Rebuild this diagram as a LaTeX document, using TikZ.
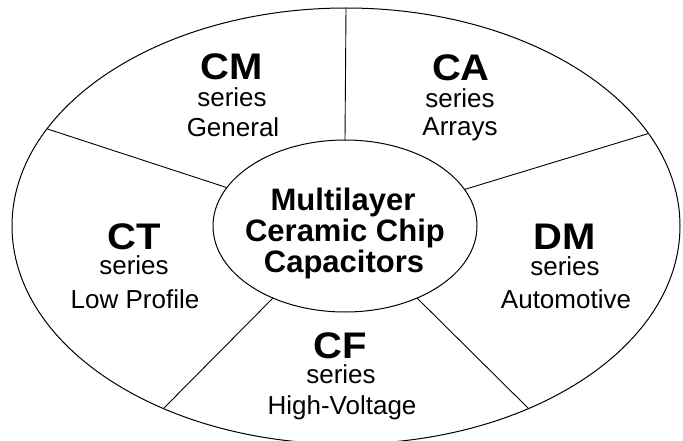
\documentclass[tikz,border=0pt]{standalone}
\usepackage{fontspec}
\setmainfont{Liberation Sans}
\newfontfamily\titlefont[FakeStretch=1.08]{Liberation Sans Bold}
\usetikzlibrary{shapes.geometric}
\tikzset{
  ring/.style={draw, ellipse, line width=1pt, inner sep=0pt, outer sep=0pt},
  spoke/.style={line width=0.9pt},
  title/.style={anchor=base, inner sep=0pt, font=\titlefont\fontsize{37}{37}\selectfont},
  sub/.style={anchor=base, inner sep=0pt, font=\fontsize{26}{26}\selectfont},
  hub/.style={anchor=base, inner sep=0pt, font=\bfseries\fontsize{31}{31}\selectfont}
}
\begin{document}
\begin{tikzpicture}[x=1pt,y=-1pt]
\useasboundingbox (0,0) rectangle (683,441);
\node[ring, minimum width=668pt, minimum height=436pt] (outer) at (346,226) {};
\node[ring, minimum width=264pt, minimum height=172pt] (inner) at (345,226) {};
\draw[spoke] (outer.90) -- (inner.90);
\draw[spoke] (outer.162.3) -- (inner.162.3);
\draw[spoke] (outer.17.5) -- (inner.17.5);
\draw[spoke] (outer.225) -- (inner.225);
\draw[spoke] (outer.315) -- (inner.315);
% centre
\node[hub] (h1) at (343,210) {Multilayer};
\node[hub] (h2) at (345,241) {Ceramic Chip};
\node[hub] (h3) at (344,272) {Capacitors};
% CM
\node[title] (cmt) at (232,80) {CM};
\node[sub] (cms) at (232,107) {series};
\node[sub] (cmd) at (233,137) {General};
% CA
\node[title] (cat) at (461,81) {CA};
\node[sub] (cas) at (460,108) {series};
\node[sub] (cad) at (460,136) {Arrays};
% CT
\node[title] (ctt) at (134,249) {CT};
\node[sub] (cts) at (134,274) {series};
\node[sub] (ctd) at (135,308) {Low Profile};
% DM
\node[title] (dmt) at (565,249) {DM};
\node[sub] (dms) at (565,275) {series};
\node[sub] (dmd) at (566,308) {Automotive};
% CF
\node[title] (cft) at (340,358) {CF};
\node[sub] (cfs) at (341,383) {series};
\node[sub] (cfd) at (342,414) {High-Voltage};
\end{tikzpicture}
\end{document}
